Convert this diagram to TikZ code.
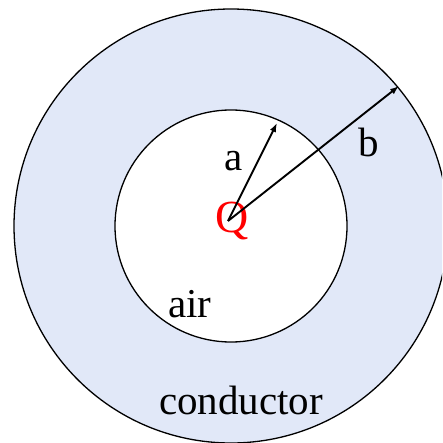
\documentclass[tikz,border=0pt]{standalone}
\usepackage{fontspec}
\setmainfont{Liberation Serif}
\usetikzlibrary{arrows.meta,positioning}
\definecolor{ringFill}{HTML}{E1E8F8}
\definecolor{chargeRed}{HTML}{FF0000}

\begin{document}
\begin{tikzpicture}[x=1pt,y=-1pt,font=\fontsize{41}{48}\selectfont,
    radiusarrow/.style={line width=1.9pt,-{Latex[length=9pt,width=6.5pt]}}]
    \useasboundingbox (0,0) rectangle (442,443);
    \begin{scope}
      \clip (0,0) rectangle (442,443);
      \coordinate (centre) at (231,226);
      \draw[line width=1.3pt,fill=ringFill] (centre) circle[radius=217pt];
      \draw[line width=1.3pt,fill=white] (centre) circle[radius=116pt];
    \end{scope}
    \node[text=chargeRed,font=\fontsize{46}{50}\selectfont,anchor=base] (charge) at (232,232) {Q};
    \coordinate (origin) at (228,221);
    \coordinate (tipA) at (277,123);
    \coordinate (tipB) at (399,86);
    \draw[radiusarrow] (origin) -- (tipA);
    \draw[radiusarrow] (origin) -- (tipB);
    \node[anchor=base] (labelA) at (234,171) {a};
    \node[anchor=base] (labelB) at (369,157) {b};
    \node[anchor=base] (air) at (190,317) {air};
    \node[anchor=base] (conductor) at (241,414) {conductor};
  \end{tikzpicture}
\end{document}
